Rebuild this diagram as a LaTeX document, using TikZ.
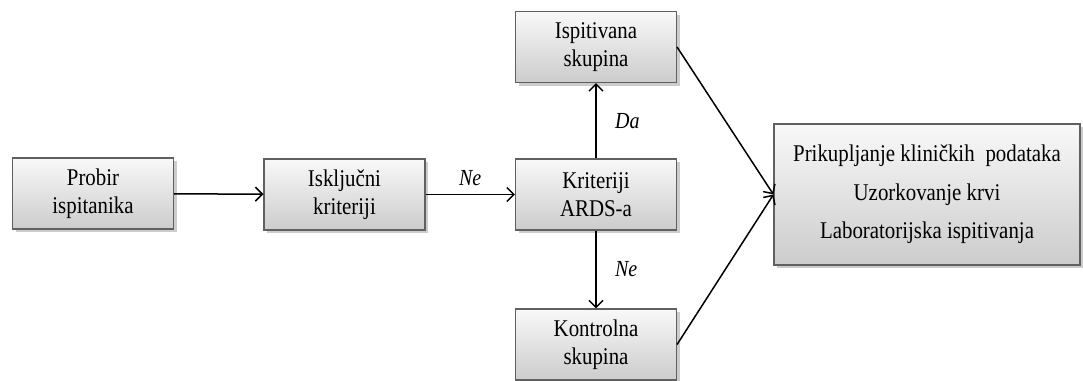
\documentclass[tikz,border=0pt]{standalone}
\usepackage{fontspec}
\setmainfont{Liberation Serif}[FakeStretch=0.87]
\usetikzlibrary{arrows.meta,shadows}
\tikzset{
  box/.style={draw=gray!75!black, line width=1.1pt, top color=gray!5, bottom color=gray!40,
    drop shadow={shadow xshift=3pt, shadow yshift=-3pt, opacity=0.4, fill=gray},
    align=center, font=\fontsize{24}{28}\selectfont, inner sep=0pt},
  smallbox/.style={box, minimum width=161pt, minimum height=71pt},
  conn/.style={line width=1.5pt, -{Straight Barb[length=7pt,width=14pt,line width=1.5pt]}},
  lbl/.style={font=\fontsize{23}{24}\selectfont\itshape}
}
\begin{document}
\begin{tikzpicture}[x=1pt,y=-1pt]
\useasboundingbox (0,0) rectangle (1083,380);
\node[smallbox] (probir) at (93,193.5) {Probir\\ispitanika};
\node[smallbox] (iskl) at (344.5,194.5) {Isključni\\kriteriji};
\node[smallbox] (krit) at (596,194.5) {Kriteriji\\ARDS-a};
\node[smallbox] (isp) at (596,47) {Ispitivana\\skupina};
\node[smallbox] (kont) at (596,344.5) {Kontrolna\\skupina};
\node[box, minimum width=306pt, minimum height=141pt, font=\fontsize{24}{38.5}\selectfont] (right) at (927,194.5)
  {Prikupljanje kliničkih\hspace{0.45em}podataka\\Uzorkovanje krvi\\Laboratorijska ispitivanja};
\draw[conn] (probir) -- (iskl);
\draw[conn] (iskl) -- node[lbl, above=5pt] {Ne} (krit);
\draw[conn] (krit) -- node[lbl, right=15pt] {Da} (isp);
\draw[conn] (krit) -- node[lbl, right=15pt] {Ne} (kont);
\draw[conn] (isp.east) -- (right.west);
\draw[conn] (kont.east) -- (right.west);
\end{tikzpicture}
\end{document}
